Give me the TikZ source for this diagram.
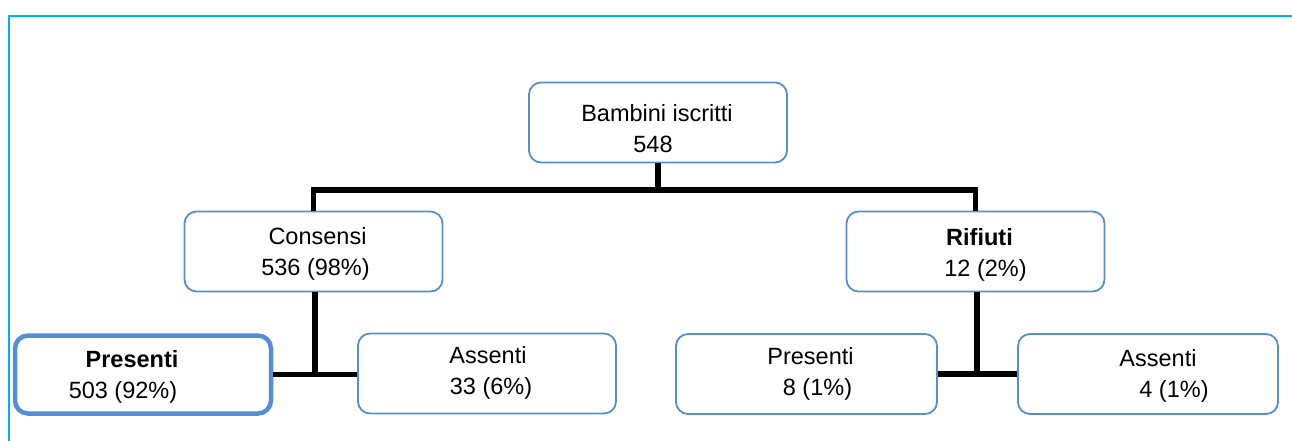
\documentclass[tikz,border=0pt]{standalone}
\usepackage{fontspec}
\setmainfont{Liberation Sans}
\definecolor{boxblue}{RGB}{86,142,213}
\definecolor{framecyan}{RGB}{0,176,240}
\newcommand\shiftx[2]{\hspace*{#1}#2\hspace*{-#1}}
\begin{document}
\begin{tikzpicture}[x=1pt,y=-1pt,
  box/.style={draw=boxblue, line width=1.8pt, rounded corners=12pt, rectangle,
    minimum width=258pt, minimum height=80pt, inner sep=0pt, fill=white},
  boxthick/.style={box, line width=4.5pt, rounded corners=13pt},
  txt/.style={align=center, inner sep=0pt, font=\fontsize{23.5}{31}\selectfont},
  conn/.style={draw=black, line width=5.5pt},
  frameline/.style={draw=framecyan, line width=2.2pt}]
\useasboundingbox (0,0) rectangle (1292,440);
% frame
\coordinate (f1) at (9,441);
\coordinate (f2) at (9,16);
\coordinate (f3) at (1293,16);
\draw[frameline] (f1) -- (f2) -- (f3);
% boxes
\node[box] (top) at (658,122.5) {};
\node[box] (cons) at (313.5,251.5) {};
\node[box] (rif) at (975.5,251.5) {};
\node[boxthick, minimum width=256pt, minimum height=78pt] (presL) at (143,374.5) {};
\node[box] (assL) at (487,373.5) {};
\node[box, minimum width=261pt] (presR) at (806.5,374) {};
\node[box, minimum width=260pt] (assR) at (1148,374) {};
% connectors
\coordinate (j1) at (658,190);
\coordinate (j2) at (315,374.5);
\coordinate (j3) at (977,374);
\draw[conn] (top.south) -- (j1);
\draw[conn] (j1 -| cons.north) -- (j1 -| rif.north);
\draw[conn] ([yshift=2.75pt]j1 -| cons.north) -- (cons.north);
\draw[conn] ([yshift=2.75pt]j1 -| rif.north) -- (rif.north);
\draw[conn] (cons.south -| j2) -- (j2);
\draw[conn] (presL.east |- j2) -- (assL.west |- j2);
\draw[conn] (rif.south -| j3) -- (j3);
\draw[conn] (presR.east |- j3) -- (assR.west |- j3);
% texts
\node[txt] (topt) at (658,128.5) {\shiftx{-1pt}{Bambini iscritti}\\\shiftx{-5pt}{548}};
\node[txt] (const) at (313.5,253.5) {\shiftx{4pt}{Consensi}\\\shiftx{2pt}{536 (98\%)}};
\node[txt] (rift) at (975.5,254.5) {\shiftx{4pt}{\textbf{Rifiuti}}\\\shiftx{10pt}{12 (2\%)}};
\node[txt] (presLt) at (143,376.5) {\shiftx{-11pt}{\textbf{Presenti}}\\\shiftx{-20pt}{503 (92\%)}};
\node[txt] (assLt) at (487,373) {\shiftx{1pt}{Assenti}\\\shiftx{4pt}{33 (6\%)}};
\node[txt] (presRt) at (806.5,373.5) {\shiftx{4pt}{Presenti}\\\shiftx{11pt}{8 (1\%)}};
\node[txt] (assRt) at (1148,376) {\shiftx{10pt}{Assenti}\\\shiftx{26pt}{4 (1\%)}};
\end{tikzpicture}
\end{document}
